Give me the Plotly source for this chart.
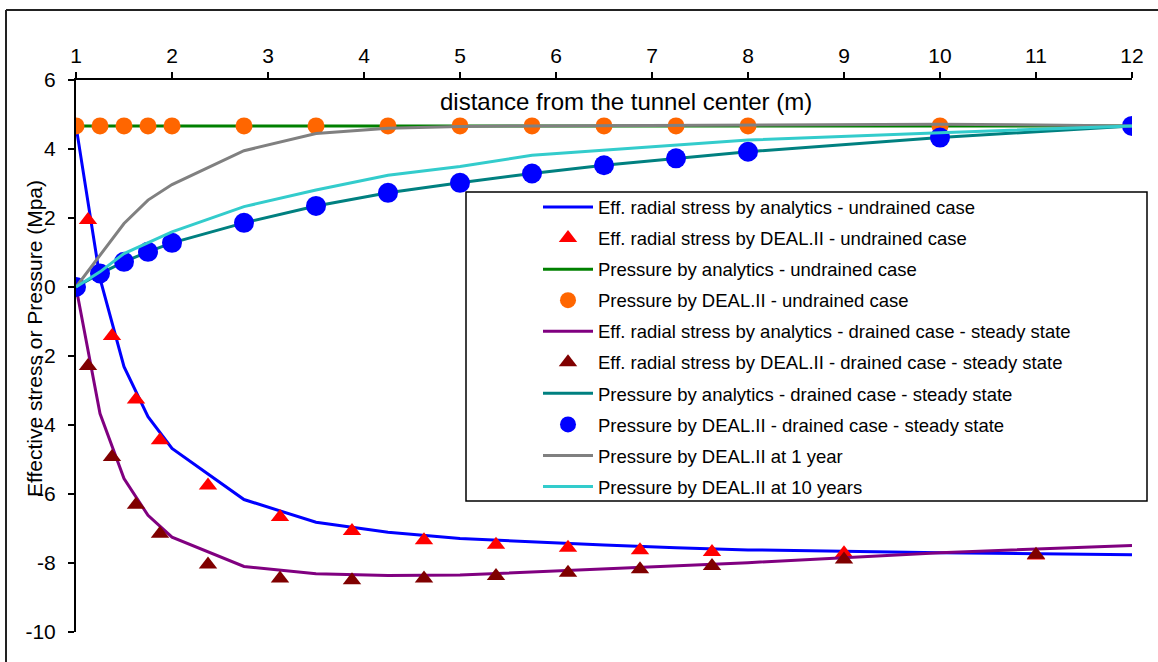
import plotly.graph_objects as go

# ---------------- data ----------------
r_nodes = [1, 1.25, 1.5, 1.75, 2, 2.75, 3.5, 4.25, 5, 5.75, 6.5, 7.25, 8, 10, 12]
r_cells = [1.125, 1.375, 1.625, 1.875, 2.375, 3.125, 3.875, 4.625, 5.375, 6.125, 6.875, 7.625, 9, 11]

sr_analytic_undrained = [4.67, 0.25, -2.31, -3.76, -4.68, -6.16, -6.82, -7.11, -7.29, -7.39, -7.48, -7.56, -7.62, -7.70, -7.76]
sr_dealii_undrained = [1.94, -1.42, -3.26, -4.44, -5.75, -6.67, -7.07, -7.34, -7.47, -7.56, -7.63, -7.68, -7.72, -7.78]
p_analytic_undrained = [4.67, 4.67, 4.67, 4.67, 4.67, 4.67, 4.67, 4.67, 4.67, 4.67, 4.67, 4.67, 4.67, 4.67, 4.67]
p_dealii_undrained = [4.67, 4.67, 4.67, 4.67, 4.67, 4.67, 4.67, 4.67, 4.67, 4.67, 4.67, 4.67, 4.67, 4.67, 4.67]
sr_analytic_drained = [0.0, -3.67, -5.55, -6.62, -7.25, -8.10, -8.31, -8.36, -8.35, -8.26, -8.16, -8.09, -7.99, -7.70, -7.49]
sr_dealii_drained = [-2.29, -4.93, -6.31, -7.15, -8.04, -8.45, -8.50, -8.45, -8.38, -8.28, -8.18, -8.09, -7.90, -7.76]
p_analytic_drained = [0.0, 0.39, 0.73, 1.02, 1.28, 1.86, 2.35, 2.73, 3.02, 3.29, 3.53, 3.73, 3.92, 4.33, 4.67]
p_dealii_drained = [0.0, 0.39, 0.73, 1.02, 1.28, 1.86, 2.35, 2.73, 3.02, 3.29, 3.53, 3.73, 3.92, 4.33, 4.67]
p_dealii_1year = [0.0, 0.93, 1.84, 2.52, 2.97, 3.95, 4.45, 4.60, 4.65, 4.67, 4.68, 4.70, 4.71, 4.72, 4.67]
p_dealii_10years = [0.0, 0.44, 0.97, 1.28, 1.60, 2.33, 2.81, 3.24, 3.49, 3.82, 3.97, 4.11, 4.26, 4.47, 4.67]

x_ticks = [1, 2, 3, 4, 5, 6, 7, 8, 9, 10, 11, 12]
y_ticks = [-10, -8, -6, -4, -2, 0, 2, 4, 6]

names = [
    "Eff. radial stress by analytics - undrained case",
    "Eff. radial stress by DEAL.II - undrained case",
    "Pressure by analytics - undrained case",
    "Pressure by DEAL.II - undrained case",
    "Eff. radial stress by analytics - drained case - steady state",
    "Eff. radial stress by DEAL.II - drained case - steady state",
    "Pressure by analytics - drained case - steady state",
    "Pressure by DEAL.II - drained case - steady state",
    "Pressure by DEAL.II at 1 year",
    "Pressure by DEAL.II at 10 years",
]

FONT = "Liberation Sans, Arial, sans-serif"
W, H = 1158, 662
ML, MR, MT, MB = 76, 26, 80, 30
PW, PH = W - ML - MR, H - MT - MB


def px(xp):
    return (xp - ML) / PW


def py(yp):
    return 1 - (yp - MT) / PH


fig = go.Figure()
LW = 3


def line_tr(x, y, name, color, i):
    fig.add_trace(go.Scatter(x=x, y=y, mode="lines", name=name, legendgroup=f"g{i}",
                             line=dict(color=color, width=LW)))


def mark_tr(x, y, name, color, symbol, size, i):
    fig.add_trace(go.Scatter(x=x, y=y, mode="markers", name=name, legendgroup=f"g{i}",
                             marker=dict(color=color, symbol=symbol, size=size, line=dict(width=0))))


line_tr(r_nodes, sr_analytic_undrained, names[0], "#0000FF", 0)
mark_tr(r_cells, sr_dealii_undrained, names[1], "#FF0000", "triangle-up", 16, 1)
line_tr(r_nodes, p_analytic_undrained, names[2], "#008000", 2)
mark_tr(r_nodes, p_dealii_undrained, names[3], "#FF6600", "circle", 17, 3)
line_tr(r_nodes, sr_analytic_drained, names[4], "#800080", 4)
mark_tr(r_cells, sr_dealii_drained, names[5], "#800000", "triangle-up", 16, 5)
line_tr(r_nodes, p_analytic_drained, names[6], "#008080", 6)
mark_tr(r_nodes, p_dealii_drained, names[7], "#0000FF", "circle", 20, 7)
line_tr(r_nodes, p_dealii_1year, names[8], "#808080", 8)
line_tr(r_nodes, p_dealii_10years, names[9], "#33CCCC", 9)

shapes = [
    # legend frame
    dict(type="rect", xref="paper", yref="paper", x0=px(466), x1=px(1147), y0=py(501), y1=py(192),
         line=dict(color="black", width=1.5), fillcolor="white", layer="below"),
    # outer chart border (left and top edges visible)
    dict(type="line", xref="paper", yref="paper", x0=px(6), x1=px(6), y0=py(10), y1=py(700),
         line=dict(color="#222222", width=2)),
    dict(type="line", xref="paper", yref="paper", x0=px(6), x1=px(1200), y0=py(10), y1=py(10),
         line=dict(color="#222222", width=2)),
]

annotations = [
    dict(text="distance from the tunnel center (m)", xref="paper", yref="paper",
         x=px(626), y=py(102), xanchor="center", yanchor="middle", showarrow=False,
         font=dict(family=FONT, size=24, color="black")),
    dict(text="Effective stress or Pressure (Mpa)", xref="paper", yref="paper",
         x=px(34), y=py(339), xanchor="center", yanchor="middle", showarrow=False,
         textangle=-90, font=dict(family=FONT, size=21, color="black")),
]

fig.update_layout(
    width=W, height=H,
    margin=dict(l=ML, r=MR, t=MT, b=MB, pad=0),
    paper_bgcolor="white", plot_bgcolor="white",
    font=dict(family=FONT, color="black"),
    showlegend=True,
    legend=dict(x=px(538), y=py(188.5), xanchor="left", yanchor="top",
                bgcolor="rgba(0,0,0,0)", borderwidth=0,
                font=dict(family=FONT, size=18.5, color="black"),
                traceorder="grouped", tracegroupgap=4, itemwidth=50),
    shapes=shapes,
    annotations=annotations,
    xaxis=dict(range=[1, 12], side="top", tickmode="array", tickvals=x_ticks,
               ticktext=[str(v) for v in x_ticks], ticks="outside", ticklen=6, tickwidth=2,
               tickcolor="black", showline=True, linecolor="black", linewidth=2,
               showgrid=False, zeroline=False, ticklabelstandoff=1,
               tickfont=dict(family=FONT, size=21, color="black")),
    yaxis=dict(range=[-10, 6], tickmode="array", tickvals=y_ticks,
               ticktext=[str(v) for v in y_ticks], ticks="outside", ticklen=6, tickwidth=2,
               tickcolor="black", showline=True, linecolor="black", linewidth=2,
               showgrid=False, zeroline=False, ticklabelstandoff=8,
               tickfont=dict(family=FONT, size=21, color="black")),
)

fig.write_html("out.html")
